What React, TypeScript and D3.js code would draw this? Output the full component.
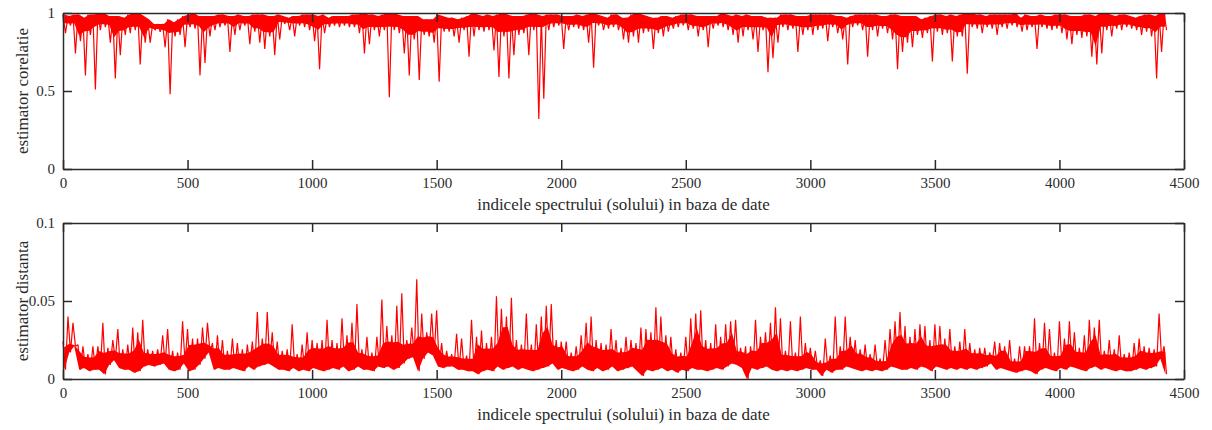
import React, { useEffect, useRef } from 'react';
import { scaleLinear, line, area, max, min, axisBottom, axisLeft, axisTop, axisRight, select } from 'd3';

const xTicks = [0, 500, 1000, 1500, 2000, 2500, 3000, 3500, 4000, 4500];
const corrTicks = [0, 0.5, 1];
const distTicks = [0, 0.05, 0.1];
const xTitle = 'indicele spectrului (solului) in baza de date';

// every bin covers 20 spectra: first sample = bin peak, second = bin dip
const binSize = 20;

// estimator corelatie, peaks per bin
const corrHigh = [
  .99,.98,.99,.99,.97,.99,.99,1,1,.98, .98,.98,.97,.99,1,1,.98,.96,.93,.93,
  .93,.96,.94,.96,.98,.99,1,.98,.98,.98, .98,.99,.99,.98,.98,.99,.98,.98,.99,.99,
  .99,.98,.98,.99,.98,.97,.98,.98,.99,.99, .99,.98,.99,.97,.98,.98,.98,.98,.99,.99,
  1,.99,.99,.98,.99,1,1,.99,.98,.98, .98,.98,.96,.96,.96,
  .99,.98,.97,.97,.96,.97,.98,1,.99,.98, .99,.98,.99,1,.99,.98,.98,.98,.99,1,
  .99,.98,.99,.99,.99,.98,.98,.98,.99,.98, .99,1,.99,.98,.97,.99,.99,.97,.97,.99,
  1,.99,.98,.97,.97,.98,.98,.97,.98,.99, .99,.99,.98,.98,.98,.98,.98,1,.99,.98,
  .99,.98,.99,.98,.98,.98,.97,.97,.97,.99, .99,.99,.98,.98,.98,
  .99,.99,.99,.99,.99,.98,.98,.97,.98,.99, .99,.99,.99,.99,.98,.98,.99,.99,.98,.98,
  .98,.98,.96,.97,.98,.99,.99,.98,.99,.98, .99,1,1,.99,.99,.98,.99,.99,.99,.99,
  .99,1,.97,.99,.98,.98,.99,.98,.98,.99, .99,.99,.98,.98,.98,.99,.99,.98,1,1,
  .99,.98,.99,.99,.98,.97,.98,.99,.99,.98, 1,1
];

// estimator corelatie, dips per bin
const corrLow = [
  .87,.92,.74,.82,.60,.86,.51,.89,.91,.81, .58,.73,.86,.87,.89,.67,.81,.81,.89,.88,
  .78,.48,.85,.86,.78,.91,.90,.60,.68,.85, .89,.91,.92,.75,.86,.89,.92,.80,.88,.81,
  .77,.85,.73,.83,.93,.89,.85,.92,.91,.89, .82,.64,.87,.91,.92,.91,.92,.91,.91,.87,
  .74,.80,.89,.85,.89,.46,.89,.87,.74,.60, .83,.57,.86,.85,.81,
  .56,.88,.88,.85,.81,.89,.72,.85,.89,.88, .89,.76,.59,.85,.58,.73,.86,.87,.73,.89,
  .32,.45,.89,.91,.92,.77,.89,.91,.90,.89, .81,.65,.92,.89,.90,.91,.89,.83,.81,.85,
  .81,.87,.88,.77,.87,.85,.88,.90,.91,.92, .89,.90,.85,.89,.78,.90,.92,.91,.89,.86,
  .81,.85,.89,.83,.75,.89,.62,.71,.81,.91, .89,.90,.75,.86,.89,
  .86,.89,.90,.82,.91,.87,.83,.67,.91,.92, .89,.72,.89,.85,.90,.87,.83,.64,.75,.81,
  .78,.86,.84,.87,.69,.88,.86,.87,.69,.85, .85,.61,.91,.90,.87,.91,.90,.86,.91,.90,
  .92,.91,.88,.89,.91,.77,.91,.90,.89,.90, .87,.83,.80,.86,.84,.85,.72,.67,.74,.89,
  .85,.90,.89,.91,.90,.89,.86,.88,.85,.58, .75,.89
];

// estimator distanta, peaks per bin
const distHigh = [
  .024,.040,.036,.022,.021,.016,.021,.021,.036,.020, .025,.032,.019,.022,.033,.030,.038,.019,.018,.019,
  .028,.032,.018,.017,.037,.032,.026,.026,.033,.036, .023,.028,.025,.018,.026,.023,.019,.022,.024,.043,
  .026,.043,.030,.024,.018,.019,.035,.016,.022,.030, .025,.023,.025,.038,.025,.023,.039,.028,.036,.048,
  .019,.027,.017,.027,.051,.034,.028,.047,.055,.025, .033,.064,.042,.030,.042,
  .044,.023,.018,.016,.029,.026,.015,.038,.027,.031, .023,.027,.053,.045,.040,.052,.025,.022,.042,.022,
  .035,.040,.047,.048,.025,.024,.024,.017,.021,.028, .036,.040,.025,.023,.022,.032,.025,.020,.027,.025,
  .023,.033,.032,.030,.046,.040,.028,.027,.019,.017, .027,.039,.042,.044,.025,.023,.035,.027,.035,.037,
  .038,.020,.021,.021,.038,.027,.030,.036,.046,.039, .018,.037,.017,.040,.023,
  .020,.018,.012,.026,.015,.040,.021,.040,.027,.025, .019,.022,.016,.022,.013,.025,.032,.037,.043,.034,
  .027,.032,.035,.034,.025,.035,.034,.026,.032,.021, .024,.032,.023,.019,.020,.020,.017,.024,.023,.021,
  .025,.013,.021,.021,.021,.039,.023,.036,.032,.017, .037,.026,.037,.030,.020,.028,.038,.033,.038,.018,
  .025,.019,.028,.016,.017,.023,.026,.021,.020,.019, .042,.021
];

// estimator distanta, dips per bin
const distLow = [
  .006,.017,.021,.006,.007,.005,.006,.006,.003,.009, .012,.007,.006,.006,.004,.005,.008,.009,.008,.009,
  .010,.006,.005,.006,.010,.005,.006,.009,.013,.017, .006,.007,.006,.006,.007,.006,.005,.008,.006,.008,
  .009,.010,.008,.006,.006,.005,.007,.005,.006,.005, .007,.006,.005,.006,.007,.006,.008,.005,.006,.008,
  .006,.006,.005,.008,.007,.008,.006,.007,.010,.013, .014,.005,.013,.017,.015,
  .008,.007,.008,.008,.006,.006,.005,.005,.003,.005, .006,.005,.008,.006,.007,.008,.006,.007,.006,.005,
  .006,.007,.008,.010,.006,.007,.006,.005,.006,.008, .006,.005,.007,.005,.006,.008,.005,.006,.007,.008,
  .005,.002,.006,.005,.006,.007,.005,.006,.004,.006, .005,.007,.006,.006,.005,.006,.007,.006,.008,.010,
  .009,.007,0,.007,.006,.007,.008,.006,.005,.006, .005,.006,.005,.006,.007,
  .006,.006,.002,.006,.004,.006,.006,.008,.007,.006, .005,.006,.005,.006,.005,.006,.008,.007,.006,.006,
  .007,.006,.008,.007,.005,.008,.007,.006,.007,.006, .007,.006,.007,.006,.007,.008,.010,.006,.007,.006,
  .005,.004,.005,.006,.005,.003,.006,.007,.006,.005, .007,.006,.008,.007,.006,.005,.007,.008,.006,.007,
  .006,.005,.006,.005,.005,.006,.007,.006,.007,.008, .013,.003
];

const ink = '#2a2a2a';
const red = '#ff0000';
const font = "'Liberation Serif', 'Times New Roman', serif";

const margin = { l: 63, r: 28 };
const width = 1212;
const height = 430;

// how far the solid core reaches towards the opposite extreme
const coreReach = 0.8;

// solid core of the dense trace: from the envelope on the dense side towards
// the nearest opposite extreme among neighbouring bins
function coreBand(high, low, denseSide) {
  return high.map((v, k) => {
    const lo = k > 0 ? k - 1 : 0;
    const hi = Math.min(high.length, k + 2);
    if (denseSide === 'high') {
      const inner = max(low.slice(lo, hi));
      return { i: k * binSize, a: v, b: v + (inner - v) * coreReach };
    }
    const inner = min(high.slice(lo, hi));
    return { i: k * binSize, a: low[k], b: low[k] + (inner - low[k]) * coreReach };
  });
}

function Panel({ top, h, domain, ticks, title, high, low, denseSide }) {
  const xAxisRef = useRef(null);
  const xTopRef = useRef(null);
  const yAxisRef = useRef(null);
  const yRightRef = useRef(null);

  const scaleX = scaleLinear().domain([0, 4500]).range([margin.l, width - margin.r]);
  const scaleY = scaleLinear().domain(domain).range([top + h, top]);

  const pts = [];
  high.forEach((v, k) => {
    pts.push([k * binSize, v]);
    pts.push([k * binSize + binSize / 2, low[k]]);
  });
  const d = line().x(p => scaleX(p[0])).y(p => scaleY(p[1]))(pts);

  const band = coreBand(high, low, denseSide);
  const bandPath = area()
    .x(p => scaleX(p.i + binSize / 4))
    .y0(p => scaleY(p.a))
    .y1(p => scaleY(p.b))(band);

  useEffect(() => {
    const style = g => {
      g.attr('color', ink).attr('font-family', font).attr('font-size', 15);
      g.selectAll('.domain').attr('stroke-width', 1.5);
      g.selectAll('line').attr('stroke-width', 1.5);
      g.selectAll('text').attr('fill', ink);
    };
    select(xAxisRef.current)
      .call(axisBottom(scaleX).tickValues(xTicks).tickSizeInner(-9).tickSizeOuter(0).tickPadding(8).tickFormat(v => String(v)))
      .call(style);
    select(xTopRef.current)
      .call(axisTop(scaleX).tickValues(xTicks).tickSizeInner(-9).tickSizeOuter(0).tickFormat(() => ''))
      .call(style);
    select(yAxisRef.current)
      .call(axisLeft(scaleY).tickValues(ticks).tickSizeInner(-9).tickSizeOuter(0).tickPadding(8).tickFormat(v => String(v)))
      .call(style);
    select(yRightRef.current)
      .call(axisRight(scaleY).tickValues(ticks).tickSizeInner(-9).tickSizeOuter(0).tickFormat(() => ''))
      .call(style);
  });

  const midX = (margin.l + width - margin.r) / 2;

  return (
    <g>
      <path d={bandPath} fill={red} stroke='none' />
      <path d={d} fill='none' stroke={red} strokeWidth={1.2} strokeLinejoin='bevel' />
      <g ref={xAxisRef} transform={`translate(0,${top + h})`} />
      <g ref={xTopRef} transform={`translate(0,${top})`} />
      <g ref={yAxisRef} transform={`translate(${margin.l},0)`} />
      <g ref={yRightRef} transform={`translate(${width - margin.r},0)`} />
      <text x={midX} y={top + h + 41} textAnchor='middle' fontFamily={font} fontSize={17} fill={ink}>{xTitle}</text>
      <text transform={`translate(28,${top + h / 2}) rotate(-90)`} textAnchor='middle' fontFamily={font} fontSize={17} fill={ink}>{title}</text>
    </g>
  );
}

export default function App() {
  return (
    <svg width={width} height={height} style={{ position: 'absolute', left: 0, top: 0, background: '#fff' }}>
      <Panel top={13} h={156} domain={[0, 1]} ticks={corrTicks} title='estimator corelatie' high={corrHigh} low={corrLow} denseSide='high' />
      <Panel top={223} h={156} domain={[0, 0.1]} ticks={distTicks} title='estimator distanta' high={distHigh} low={distLow} denseSide='low' />
    </svg>
  );
}
